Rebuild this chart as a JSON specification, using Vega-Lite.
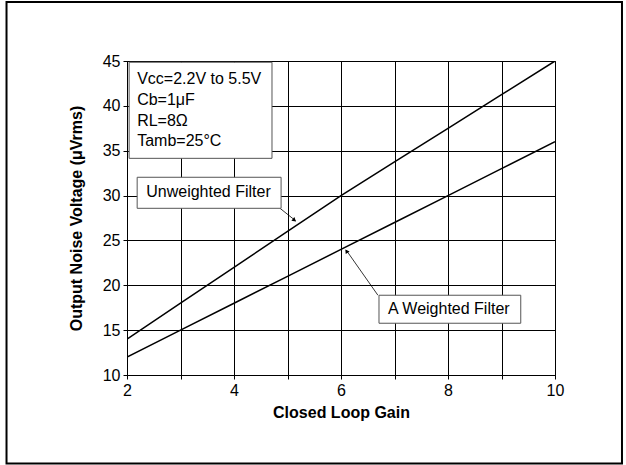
{
  "$schema": "https://vega.github.io/schema/vega-lite/v6.json",
  "autosize": "none",
  "width": 428,
  "height": 314,
  "padding": {"left": 127, "top": 61, "right": 71, "bottom": 90},
  "background": "white",
  "config": {
    "font": "Liberation Sans",
    "view": {"stroke": "black", "strokeWidth": 1},
    "axis": {
      "labelFont": "Liberation Sans",
      "titleFont": "Liberation Sans",
      "labelFontSize": 16,
      "titleFontSize": 16,
      "labelColor": "black",
      "titleColor": "black",
      "titleFontWeight": "bold",
      "domainColor": "black",
      "tickColor": "black",
      "tickSize": 4,
      "gridColor": "black",
      "gridOpacity": 1,
      "gridWidth": 1,
      "labelFlush": false
    }
  },
  "layer": [
    {
      "data": {
        "values": [
          {"gain": 2, "noise": 14, "filter": "Unweighted"},
          {"gain": 3, "noise": 18, "filter": "Unweighted"},
          {"gain": 4, "noise": 22, "filter": "Unweighted"},
          {"gain": 5, "noise": 26, "filter": "Unweighted"},
          {"gain": 6, "noise": 30, "filter": "Unweighted"},
          {"gain": 7, "noise": 33.75, "filter": "Unweighted"},
          {"gain": 8, "noise": 37.5, "filter": "Unweighted"},
          {"gain": 9, "noise": 41.25, "filter": "Unweighted"},
          {"gain": 10, "noise": 45, "filter": "Unweighted"},
          {"gain": 2, "noise": 12, "filter": "A Weighted"},
          {"gain": 3, "noise": 15, "filter": "A Weighted"},
          {"gain": 4, "noise": 18, "filter": "A Weighted"},
          {"gain": 5, "noise": 21, "filter": "A Weighted"},
          {"gain": 6, "noise": 24, "filter": "A Weighted"},
          {"gain": 7, "noise": 27, "filter": "A Weighted"},
          {"gain": 8, "noise": 30, "filter": "A Weighted"},
          {"gain": 9, "noise": 33, "filter": "A Weighted"},
          {"gain": 10, "noise": 36, "filter": "A Weighted"}
        ]
      },
      "mark": {"type": "line", "stroke": "black", "strokeWidth": 1.5, "clip": true},
      "encoding": {
        "x": {
          "field": "gain", "type": "quantitative",
          "scale": {"domain": [2, 10], "nice": false, "zero": false},
          "axis": {
            "title": "Closed Loop Gain",
            "values": [2, 3, 4, 5, 6, 7, 8, 9, 10],
            "labelExpr": "datum.value % 2 == 0 ? datum.label : ''",
            "grid": true,
            "labelPadding": 3,
            "titlePadding": 6
          }
        },
        "y": {
          "field": "noise", "type": "quantitative",
          "scale": {"domain": [10, 45], "nice": false, "zero": false},
          "axis": {
            "title": "Output Noise Voltage (μVrms)",
            "values": [10, 12.5, 15, 17.5, 20, 22.5, 25, 27.5, 30, 32.5, 35, 37.5, 40, 42.5, 45],
            "labelExpr": "datum.value % 5 == 0 ? datum.label : ''",
            "grid": true,
            "labelPadding": 3,
            "titlePadding": 18
          }
        },
        "detail": {"field": "filter"}
      }
    },
    {
      "data": {"values": [{"note": "frame"}]},
      "mark": {"type": "rect", "fill": null, "fillOpacity": 0, "stroke": "black", "strokeWidth": 2},
      "encoding": {
        "x": {"datum": -0.252, "type": "quantitative"},
        "x2": {"datum": 11.252},
        "y": {"datum": 51.58, "type": "quantitative"},
        "y2": {"datum": 0.13}
      }
    },
    {
      "data": {"values": [{"note": "conditions"}]},
      "mark": {"type": "rect", "fill": "white", "stroke": "#555555", "strokeWidth": 1},
      "encoding": {
        "x": {"datum": 2.04, "type": "quantitative"},
        "x2": {"datum": 4.71},
        "y": {"datum": 44.86, "type": "quantitative"},
        "y2": {"datum": 34.15}
      }
    },
    {
      "data": {"values": [{"note": "conditions"}]},
      "mark": {"type": "text", "align": "left", "baseline": "middle", "fontSize": 16, "lineHeight": 20.7, "fill": "black", "text": ["Vcc=2.2V to 5.5V", "Cb=1μF", "RL=8Ω", "Tamb=25°C"]},
      "encoding": {
        "x": {"datum": 2.19, "type": "quantitative"},
        "y": {"datum": 42.96, "type": "quantitative"}
      }
    },
    {
      "data": {"values": [{"note": "unweighted leader"}]},
      "mark": {"type": "rule", "stroke": "black", "strokeWidth": 0.8},
      "encoding": {
        "x": {"datum": 4.86, "type": "quantitative"},
        "y": {"datum": 28.58, "type": "quantitative"},
        "x2": {"datum": 5.15},
        "y2": {"datum": 27.2}
      }
    },
    {
      "data": {"values": [{"note": "unweighted arrow"}]},
      "mark": {"type": "point", "shape": "triangle", "filled": true, "fill": "black", "strokeWidth": 0, "size": 22, "angle": 129.5, "opacity": 1},
      "encoding": {
        "x": {"datum": 5.12, "type": "quantitative"},
        "y": {"datum": 27.3, "type": "quantitative"}
      }
    },
    {
      "data": {"values": [{"note": "unweighted label"}]},
      "mark": {"type": "rect", "fill": "white", "stroke": "#555555", "strokeWidth": 1},
      "encoding": {
        "x": {"datum": 2.19, "type": "quantitative"},
        "x2": {"datum": 4.88},
        "y": {"datum": 32.04, "type": "quantitative"},
        "y2": {"datum": 28.58}
      }
    },
    {
      "data": {"values": [{"note": "unweighted label"}]},
      "mark": {"type": "text", "align": "left", "baseline": "middle", "fontSize": 16, "fill": "black", "text": "Unweighted Filter"},
      "encoding": {
        "x": {"datum": 2.36, "type": "quantitative"},
        "y": {"datum": 30.36, "type": "quantitative"}
      }
    },
    {
      "data": {"values": [{"note": "a-weighted leader"}]},
      "mark": {"type": "rule", "stroke": "black", "strokeWidth": 0.8},
      "encoding": {
        "x": {"datum": 6.69, "type": "quantitative"},
        "y": {"datum": 18.89, "type": "quantitative"},
        "x2": {"datum": 6.1},
        "y2": {"datum": 23.9}
      }
    },
    {
      "data": {"values": [{"note": "a-weighted arrow"}]},
      "mark": {"type": "point", "shape": "triangle", "filled": true, "fill": "black", "strokeWidth": 0, "size": 22, "angle": 324.7, "opacity": 1},
      "encoding": {
        "x": {"datum": 6.11, "type": "quantitative"},
        "y": {"datum": 23.75, "type": "quantitative"}
      }
    },
    {
      "data": {"values": [{"note": "a-weighted label"}]},
      "mark": {"type": "rect", "fill": "white", "stroke": "#555555", "strokeWidth": 1},
      "encoding": {
        "x": {"datum": 6.71, "type": "quantitative"},
        "x2": {"datum": 9.36},
        "y": {"datum": 18.89, "type": "quantitative"},
        "y2": {"datum": 15.77}
      }
    },
    {
      "data": {"values": [{"note": "a-weighted label"}]},
      "mark": {"type": "text", "align": "left", "baseline": "middle", "fontSize": 16, "fill": "black", "text": "A Weighted Filter"},
      "encoding": {
        "x": {"datum": 6.88, "type": "quantitative"},
        "y": {"datum": 17.33, "type": "quantitative"}
      }
    }
  ]
}
